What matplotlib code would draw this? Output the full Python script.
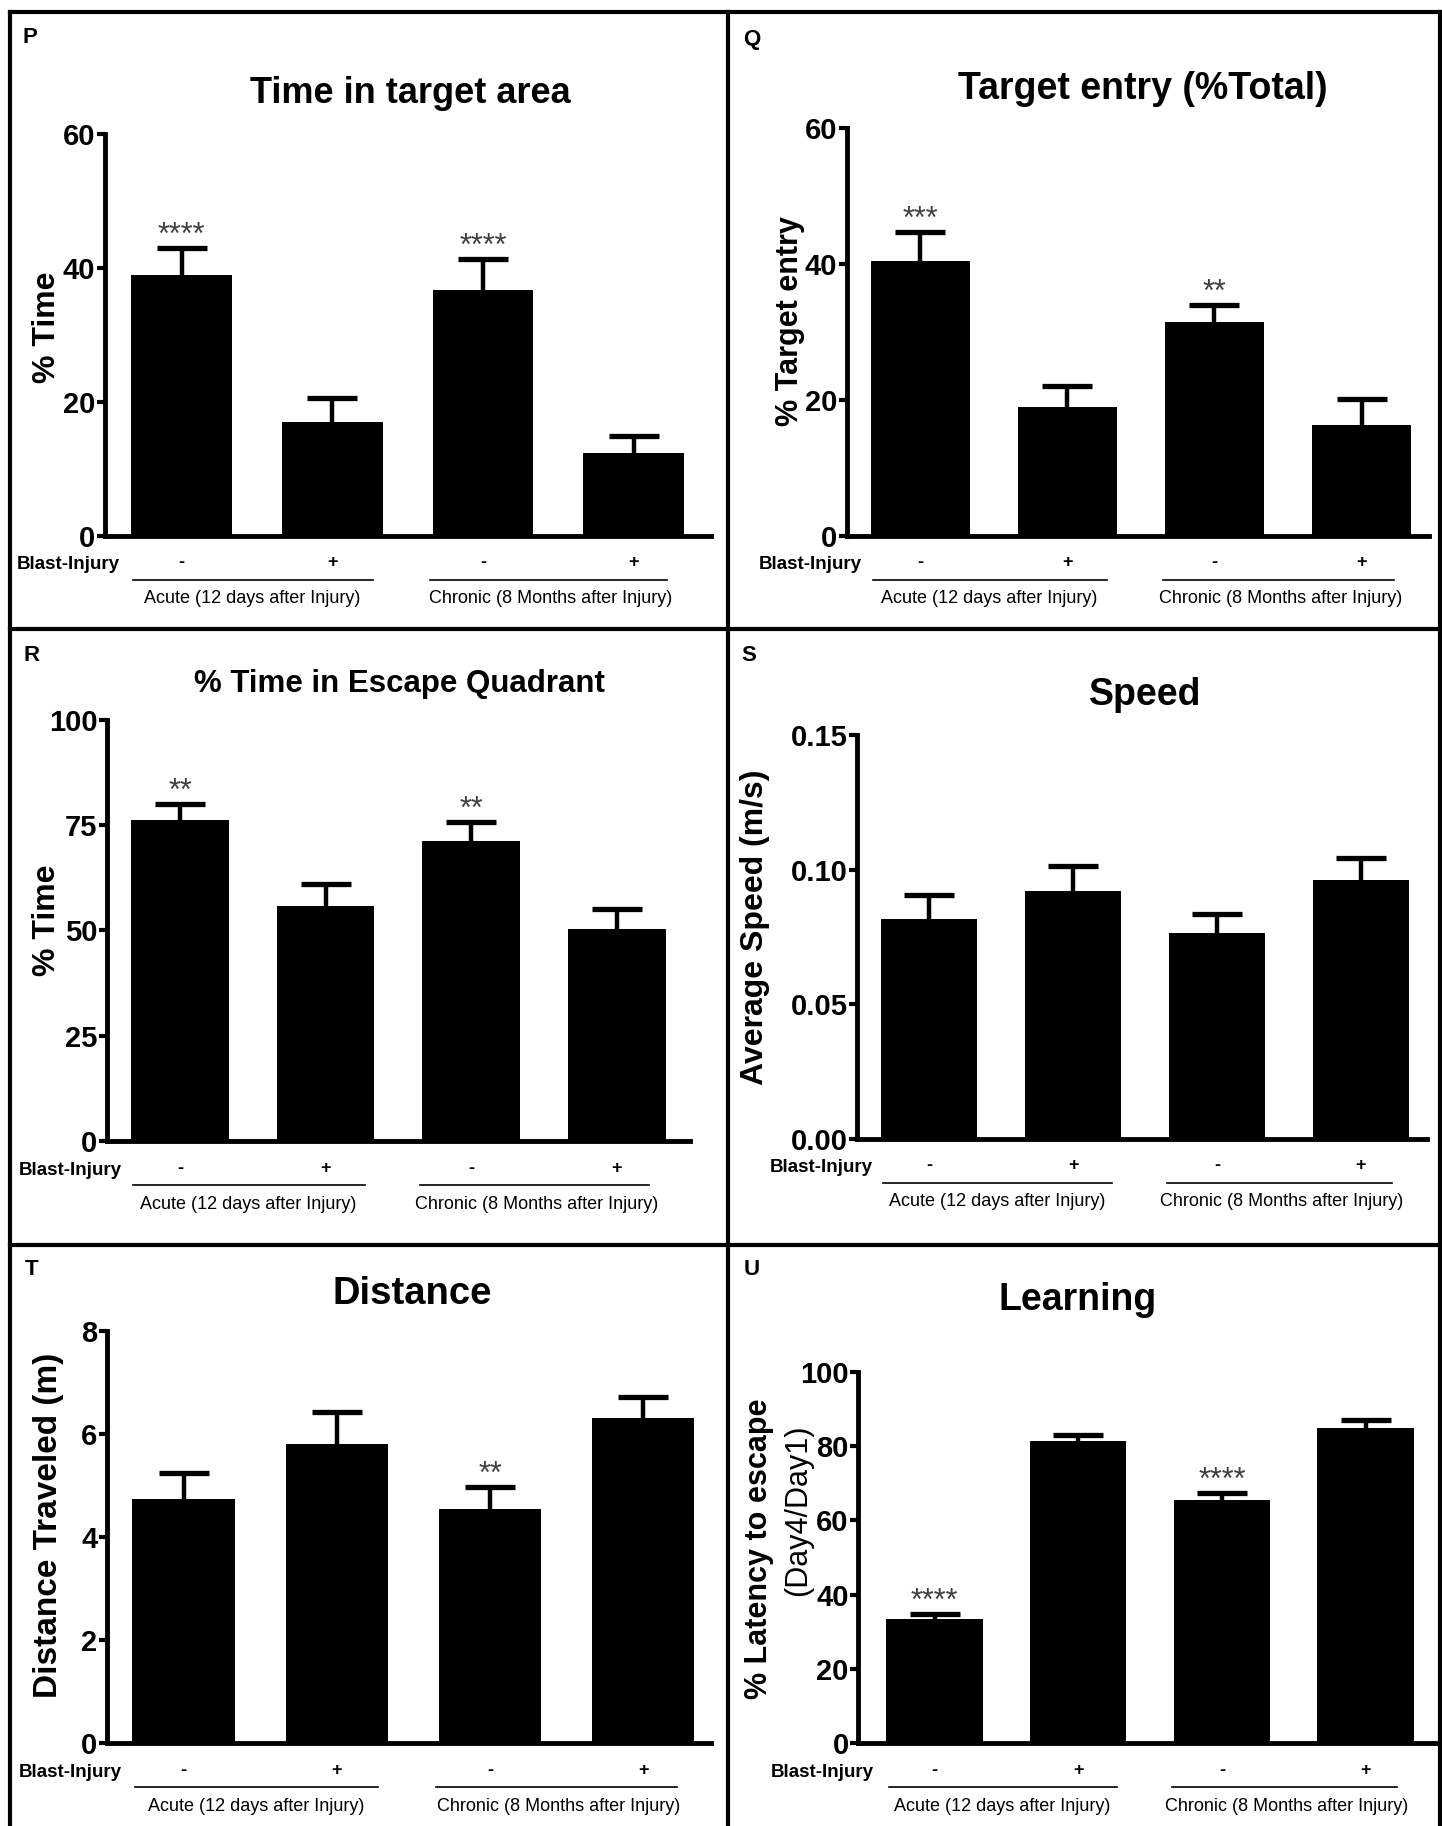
import matplotlib
matplotlib.use("Agg")
import matplotlib.pyplot as plt
from matplotlib.lines import Line2D
from matplotlib.transforms import offset_copy

plt.rcParams['font.family'] = ['Liberation Sans', 'DejaVu Sans']

# layout was measured on a 1238x1568 copy of the figure
W, H = 1238, 1568


def fx(x):
    return x / W


def fy(y):
    return 1 - y / H


# shared labels
groups = ["Acute (12 days after Injury)", "Chronic (8 Months after Injury)"]
blast_signs = ["-", "+", "-", "+"]

# P: time in target area
time_target = [39.0, 17.0, 36.7, 12.3]
time_target_err = [4.0, 3.5, 4.6, 2.6]
time_target_stars = ["****", "", "****", ""]

# Q: target entry
entry = [40.5, 18.9, 31.4, 16.3]
entry_err = [4.2, 3.2, 2.5, 3.8]
entry_stars = ["***", "", "**", ""]

# R: time in escape quadrant
escape = [76.2, 55.8, 71.3, 50.3]
escape_err = [3.9, 5.2, 4.4, 4.7]
escape_stars = ["**", "", "**", ""]

# S: speed
speed = [0.0817, 0.0921, 0.0765, 0.0960]
speed_err = [0.0087, 0.0091, 0.0069, 0.0082]
speed_stars = ["", "", "", ""]

# T: distance
distance = [4.75, 5.81, 4.54, 6.31]
distance_err = [0.49, 0.61, 0.43, 0.42]
distance_stars = ["", "", "**", ""]

# U: learning
learning = [33.5, 81.5, 65.5, 85.0]
learning_err = [1.3, 1.6, 1.9, 2.1]
learning_stars = ["****", "", "****", ""]

fig = plt.figure(figsize=(14.42, 18.26), dpi=100)


def panel(rect, xlim, vals, errs, stars, ylim, yticks, fmt):
    xL, xR, yT, y0 = rect
    ax = fig.add_axes([fx(xL), fy(y0), (xR - xL) / W, (y0 - yT) / H])
    x = range(len(vals))
    ax.errorbar(x, vals, yerr=errs, fmt='none', ecolor='black', elinewidth=3.2,
                capsize=18, capthick=3.8, zorder=1)
    ax.bar(x, vals, width=0.67, color='black', zorder=2)
    for i, s in enumerate(stars):
        if s:
            ax.annotate(s, (i, vals[i] + errs[i]), xytext=(0, 4), textcoords='offset pixels',
                        ha='center', va='baseline', fontsize=22, color='#404040')
    ax.set_xlim(*xlim)
    ax.set_ylim(*ylim)
    ax.set_yticks(yticks)
    ax.set_yticklabels([fmt.format(t) for t in yticks], fontsize=21, fontweight='bold')
    ax.set_xticks([])
    for side in ['top', 'right']:
        ax.spines[side].set_visible(False)
    for side in ['left', 'bottom']:
        ax.spines[side].set_linewidth(3.5)
    ax.tick_params(axis='y', length=6, width=3, pad=1)

    # blast-injury row under the bars
    sign_tr = offset_copy(ax.get_xaxis_transform(), fig=fig, y=-27, units='dots')
    line_tr = offset_copy(ax.get_xaxis_transform(), fig=fig, y=-44, units='dots')
    grp_tr = offset_copy(ax.get_xaxis_transform(), fig=fig, y=-63, units='dots')
    for i, s in enumerate(blast_signs):
        ax.text(i, 0, s, transform=sign_tr, ha='center', va='center',
                fontsize=13, fontweight='bold')
    ax.annotate("Blast-Injury", (0, 0), xycoords='axes fraction', xytext=(15, -29),
                textcoords='offset pixels', ha='right', va='center',
                fontsize=13.5, fontweight='bold')
    for (a, b), c, g in zip([(-0.32, 1.27), (1.65, 3.22)], [0.47, 2.45], groups):
        ax.plot([a, b], [0, 0], color='black', lw=1.2, transform=line_tr, clip_on=False)
        ax.text(c, 0, g, transform=grp_tr, ha='center', va='center', fontsize=13)
    return ax


panel((90, 610, 115, 460), (-0.51, 3.51), time_target, time_target_err, time_target_stars,
      (0, 60), [0, 20, 40, 60], "{:g}")
panel((727, 1227, 110, 460), (-0.50, 3.46), entry, entry_err, entry_stars,
      (0, 60), [0, 20, 40, 60], "{:g}")
panel((92, 592, 618, 980), (-0.50, 3.50), escape, escape_err, escape_stars,
      (0, 100), [0, 25, 50, 75, 100], "{:g}")
panel((736, 1225, 631, 978), (-0.50, 3.46), speed, speed_err, speed_stars,
      (0, 0.15), [0, 0.05, 0.10, 0.15], "{:.2f}")
panel((92, 610, 1143, 1497), (-0.50, 3.44), distance, distance_err, distance_stars,
      (0, 8), [0, 2, 4, 6, 8], "{:g}")
panel((737, 1234, 1178, 1497), (-0.53, 3.50), learning, learning_err, learning_stars,
      (0, 100), [0, 20, 40, 60, 80, 100], "{:g}")

# titles
titles = [("Time in target area", 352, 80, 26), ("Target entry (%Total)", 981, 76, 27),
          ("% Time in Escape Quadrant", 343, 587, 22.5), ("Speed", 983, 597, 27),
          ("Distance", 354, 1111, 27.5), ("Learning", 925, 1116, 27)]
for t, x, y, s in titles:
    fig.text(fx(x), fy(y), t, ha='center', va='center', fontsize=s, fontweight='bold')

# panel letters
letters = [("P", 26, 32), ("Q", 645, 34), ("R", 27, 563), ("S", 643, 563),
           ("T", 27, 1090), ("U", 645, 1090)]
for t, x, y in letters:
    fig.text(fx(x), fy(y), t, ha='center', va='center', fontsize=16, fontweight='bold')

# y axis labels
ylabels = [("% Time", 40, 281, 23), ("% Target entry", 678, 276, 22),
           ("% Time", 40, 790, 23), ("Average Speed (m/s)", 648, 796, 23),
           ("Distance Traveled (m)", 42, 1310, 24), ("% Latency to escape", 652, 1330, 22)]
for t, x, y, s in ylabels:
    fig.text(fx(x), fy(y), t, ha='center', va='center', rotation=90,
             fontsize=s, fontweight='bold')
fig.text(fx(685), fy(1297), "(Day4/Day1)", ha='center', va='center', rotation=90, fontsize=22)

# panel frames (no bottom edge in the original)
frame = dict(color='black', lw=3, transform=fig.transFigure)
for xs, ys in [((8.6, 1236), (10, 10)), ((8.6, 1236), (540, 540)), ((8.6, 1236), (1069, 1069)),
               ((8.6, 8.6), (10, 1568)), ((625, 625), (10, 1568)),
               ((1236, 1236), (10, 1568))]:
    fig.add_artist(Line2D([fx(v) for v in xs], [fy(v) for v in ys], **frame))

fig.savefig("out.png", dpi=100)
